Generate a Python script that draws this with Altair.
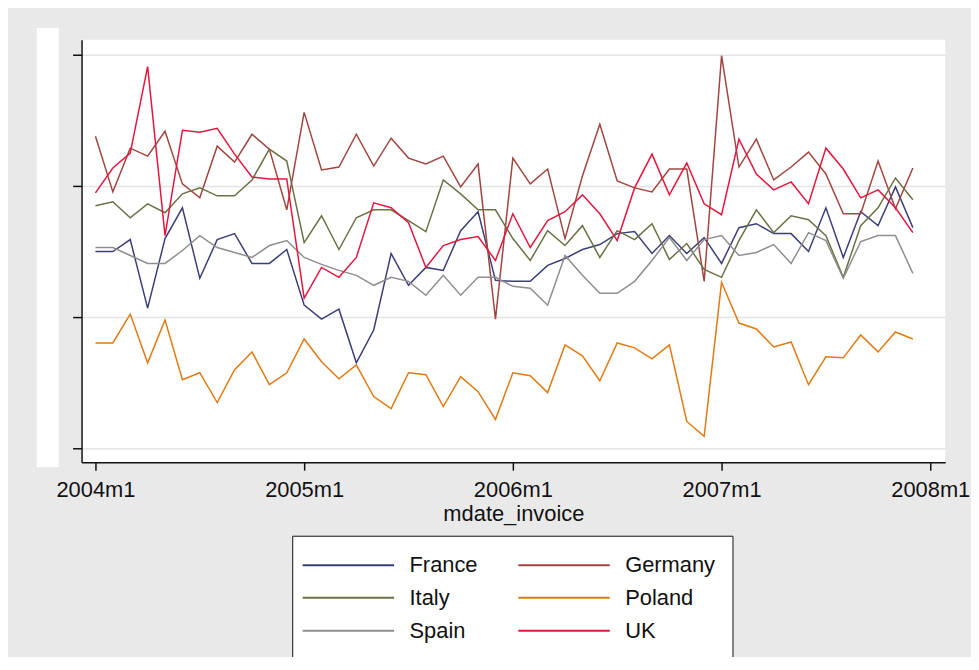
import altair as alt
import pandas as pd

# Monthly index: 0 = 2004m1 ... 47 = 2007m12
month_idx = list(range(48))

countries = ["France", "Germany", "Italy", "Poland", "Spain", "UK"]
colors = ["#3a3f7a", "#a0453f", "#6b7143", "#e07a12", "#8e8e8e", "#e3173e"]

# values (gridlines at 0, 132, 264, 396)
france = [198, 198, 210, 141, 211, 242, 171, 210, 216, 186, 186, 200,
          144, 130, 140, 86, 119, 196, 164, 182, 179, 219, 238, 169,
          168, 168, 184, 191, 200, 205, 216, 218, 196, 214, 196, 212,
          186, 222, 226, 216, 216, 198, 242, 192, 238, 224, 263, 222]
germany = [314, 258, 302, 294, 319, 266, 252, 304, 288, 316, 301, 240,
           338, 280, 283, 316, 284, 312, 292, 286, 294, 263, 286, 130,
           292, 266, 281, 211, 274, 326, 269, 262, 258, 281, 281, 168,
           395, 283, 311, 270, 283, 298, 276, 236, 236, 289, 241, 282]
italy = [244, 248, 232, 246, 237, 256, 262, 254, 254, 270, 301, 289,
         207, 234, 200, 232, 240, 240, 229, 218, 270, 256, 240, 240,
         211, 189, 219, 204, 224, 192, 219, 210, 226, 190, 206, 180,
         172, 209, 240, 217, 234, 230, 214, 172, 224, 242, 272, 250]
poland = [106, 106, 135, 86, 129, 69, 76, 46, 79, 97, 64, 76,
          110, 87, 70, 84, 52, 40, 76, 74, 42, 72, 57, 29,
          76, 73, 56, 104, 93, 68, 106, 101, 90, 104, 27, 12,
          167, 126, 120, 102, 107, 64, 92, 91, 114, 97, 117, 110]
spain = [202, 202, 194, 186, 186, 199, 214, 202, 197, 192, 204, 209,
         192, 185, 179, 174, 164, 172, 168, 154, 174, 154, 172, 172,
         163, 161, 144, 194, 174, 156, 156, 168, 189, 212, 189, 210,
         214, 194, 197, 205, 186, 217, 209, 171, 208, 214, 214, 176]
uk = [257, 282, 297, 384, 214, 320, 318, 322, 296, 273, 271, 271,
      151, 182, 172, 192, 247, 242, 227, 182, 204, 210, 213, 189,
      236, 202, 229, 238, 255, 236, 209, 262, 296, 255, 287, 246,
      235, 311, 276, 260, 268, 246, 302, 281, 252, 260, 242, 217]

series = {"France": france, "Germany": germany, "Italy": italy,
          "Poland": poland, "Spain": spain, "UK": uk}

rows = [{"month": m, "country": c, "value": v}
        for c, vals in series.items() for m, v in zip(month_idx, vals)]
df = pd.DataFrame(rows)

FONT = "Liberation Sans"

lines = alt.Chart(df).mark_line(strokeWidth=1.5).encode(
    x=alt.X("month:Q",
            scale=alt.Scale(domain=[-0.8, 48.857], nice=False, zero=False),
            axis=alt.Axis(values=[0, 12, 24, 36, 48],
                          labelExpr="(2004 + datum.value / 12) + 'm1'",
                          title="mdate_invoice", grid=False,
                          tickSize=8, tickColor="#111", tickWidth=1.5,
                          domainColor="#111", domainWidth=1.5,
                          labelFont=FONT, labelFontSize=22, labelColor="#111",
                          labelPadding=10, labelFlush=False,
                          titleFont=FONT, titleFontSize=22, titleFontWeight="normal",
                          titleColor="#111", titlePadding=3)),
    y=alt.Y("value:Q",
            scale=alt.Scale(domain=[-14, 411], nice=False, zero=False),
            axis=alt.Axis(values=[0, 132, 264, 396], labels=False, title=None,
                          grid=True, gridColor="#e4e4e4", gridWidth=1.5,
                          tickSize=9, tickColor="#111", tickWidth=1.5,
                          domainColor="#111", domainWidth=1.5)),
    color=alt.Color("country:N",
                    scale=alt.Scale(domain=countries, range=colors),
                    legend=alt.Legend(title=None, orient="none",
                                      legendX=212, legendY=499,
                                      direction="horizontal", columns=2,
                                      symbolType="M-4,0L4,0", symbolSize=529,
                                      symbolStrokeWidth=2, symbolOffset=27,
                                      labelFont=FONT, labelFontSize=22,
                                      labelColor="#111", labelLimit=400,
                                      labelOffset=49, rowPadding=9,
                                      columnPadding=36, padding=17,
                                      strokeColor="#111", fillColor="white")),
)

label_box = alt.Chart(alt.Data(values=[{"a": 1}])).mark_rect(color="white").encode(
    x=alt.value(-45), x2=alt.value(-23), y=alt.value(-12), y2=alt.value(430)
)

chart = alt.layer(label_box, lines).properties(
    width=869, height=425,
    autosize=alt.AutoSizeParams(type="none"),
    padding={"left": 74, "top": 30, "right": 26, "bottom": 194},
).configure(background="#e9e9e9").configure_view(fill="white", stroke=None)

chart.save("out.html", embed_options={"renderer": "svg", "actions": False})
